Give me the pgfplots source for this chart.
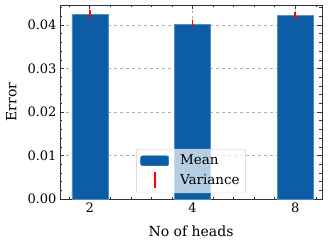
\documentclass[border=0pt]{standalone}
\usepackage{fontspec}
\setmainfont{DejaVu Serif}
\usepackage{pgfplots}
\pgfplotsset{compat=1.18}
\definecolor{sciblue}{HTML}{0C5DA5}
\definecolor{errred}{HTML}{FF0000}
\begin{document}
\begin{tikzpicture}[font=\fontsize{13}{15}\selectfont]
\begin{axis}[
  scale only axis,
  width=262pt, height=194pt,
  xmin=-0.29, xmax=2.26,
  ymin=0, ymax=0.0446,
  xtick={0,1,2}, xticklabels={2,4,8},
  minor xtick={-0.2,0,...,2.2},
  ytick={0,0.01,0.02,0.03,0.04},
  minor ytick={0,0.002,...,0.044},
  /pgf/number format/assume math mode=true,
  yticklabel style={/pgf/number format/.cd,fixed,fixed zerofill,precision=2},
  ticklabel style={font=\fontsize{13}{15}\selectfont},
  scaled y ticks=false,
  tick align=inside,
  tickpos=both,
  major tick length=4.5pt, minor tick length=2.5pt,
  tick style={black!80, line width=0.6pt},
  axis line style={black!80, line width=0.7pt},
  grid=major,
  major grid style={gray!60, dashed, line width=0.5pt},
  xlabel={No of heads}, ylabel={Error},
  label style={font=\fontsize{14}{16}\selectfont},
  xlabel style={yshift=-7pt},
  ylabel style={yshift=4pt},
  unbounded coords=jump,
  legend style={at={(0.5,0.03)}, anchor=south, fill=white, fill opacity=0.7, text opacity=1, draw=gray!40, rounded corners=2pt, font=\fontsize{13.5}{15}\selectfont, row sep=3pt, inner sep=4pt},
  legend cell align=left,
]
\addplot[ybar, bar width=0.35, fill=sciblue, draw=sciblue!70!white, line width=0.4pt, forget plot]
  coordinates {(0,0.0425) (1,0.0402) (2,0.0422)};
% variance (error) segments: mean -/+ error
\addplot[color=errred, line width=1.6pt, mark=none, forget plot]
  coordinates {(0,0.0415) (0,0.0435) (0.5,nan) (1,0.0392) (1,0.0412) (1.5,nan) (2,0.0413) (2,0.0431)};
\addlegendimage{legend image code/.code={\fill[sciblue, fill opacity=1] (0cm,-0.17cm) rectangle (0.99cm,0.17cm); \path (1.31cm,0);}}
\addlegendentry{Mean}
\addlegendimage{legend image code/.code={\draw[color=errred, line width=1.6pt, draw opacity=1] (0.5cm,-0.28cm) -- (0.5cm,0.28cm); \path (0cm,0) (1.31cm,0);}}
\addlegendentry{Variance}
\end{axis}
\path (current axis.south west) ++(-60pt,-43pt);
\path (current axis.north east) ++(8pt,5pt);
\end{tikzpicture}
\end{document}
